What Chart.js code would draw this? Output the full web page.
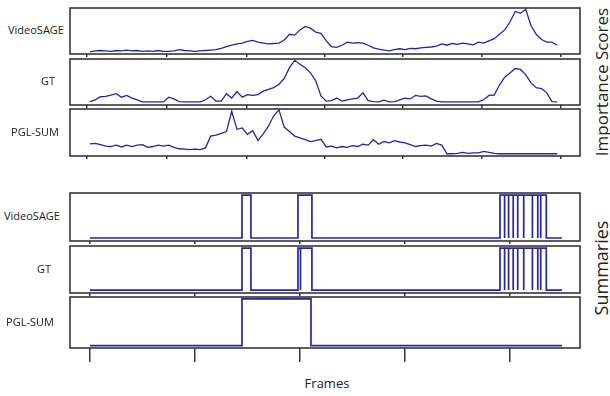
<!DOCTYPE html>
<html>
<head>
<meta charset="utf-8">
<script src="https://cdn.jsdelivr.net/npm/chart.js@4.4.1/dist/chart.umd.min.js"></script>
<style>
  html, body { margin: 0; padding: 0; background: #fff; }
  #figure { position: relative; width: 610px; height: 396px; overflow: hidden; font-family: "Open Sans", sans-serif; color: #222; }
  #figure canvas { position: absolute; }
  .row-label { position: absolute; font-size: 11px; white-space: nowrap; transform: translate(-50%, -50%); }
  .side-label { position: absolute; white-space: nowrap; transform: translate(-50%, -50%) rotate(-90deg); }
  #xlabel { position: absolute; font-size: 13px; transform: translate(-50%, -50%); }
</style>
</head>
<body>
<div id="figure">
  <div class="side-label" style="left:601px; top:82px; font-size:17px;">Importance Scores</div>
  <div class="side-label" style="left:601px; top:268px; font-size:18px;">Summaries</div>
  <div id="xlabel" style="left:327px; top:383px;">Frames</div>
</div>
<script>
// frames sampled for the importance score curves
const scoreFrames = [
  0, 50, 100, 150, 200, 250, 300, 350, 400, 450,
  500, 550, 600, 650, 700, 750, 800, 850, 900, 950,
  1000, 1050, 1100, 1150, 1200, 1250, 1300, 1350, 1400, 1450,
  1500, 1550, 1600, 1650, 1700, 1750, 1800, 1850, 1900, 1950,
  2000, 2050, 2100, 2150, 2200, 2250, 2300, 2350, 2400, 2450,
  2500, 2550, 2600, 2650, 2700, 2750, 2800, 2850, 2900, 2950,
  3000, 3050, 3100, 3150, 3200, 3250, 3300, 3350, 3400, 3450,
  3500, 3550, 3600, 3650, 3700, 3750, 3800, 3850, 3900, 3950,
  4000, 4050, 4100, 4150, 4200, 4250, 4300, 4350, 4400, 4450
];

const videoSageScores = [
  0.00, 0.02, 0.03, 0.02, 0.01, 0.03, 0.02, 0.04, 0.02, 0.03,
  0.01, 0.02, 0.01, 0.03, 0.01, 0.01, 0.02, 0.05, 0.03, 0.02,
  0.01, 0.02, 0.03, 0.04, 0.05, 0.08, 0.12, 0.15, 0.18, 0.20,
  0.24, 0.26, 0.22, 0.20, 0.18, 0.19, 0.20, 0.27, 0.40, 0.38,
  0.50, 0.58, 0.54, 0.45, 0.42, 0.25, 0.12, 0.10, 0.15, 0.22,
  0.20, 0.21, 0.20, 0.15, 0.09, 0.06, 0.04, 0.02, 0.05, 0.07,
  0.05, 0.08, 0.07, 0.09, 0.10, 0.11, 0.13, 0.18, 0.15, 0.19,
  0.17, 0.20, 0.18, 0.16, 0.22, 0.20, 0.25, 0.30, 0.40, 0.50,
  0.68, 0.92, 0.88, 0.97, 0.60, 0.40, 0.28, 0.22, 0.22, 0.15
];

const gtScores = [
  0.02, 0.06, 0.13, 0.14, 0.17, 0.20, 0.12, 0.16, 0.10, 0.06,
  0.01, 0.01, 0.01, 0.01, 0.01, 0.12, 0.08, 0.02, 0.01, 0.01,
  0.01, 0.01, 0.06, 0.14, 0.03, 0.03, 0.20, 0.10, 0.25, 0.12,
  0.18, 0.16, 0.18, 0.26, 0.30, 0.34, 0.42, 0.55, 0.80, 0.97,
  0.88, 0.80, 0.68, 0.50, 0.15, 0.03, 0.04, 0.10, 0.03, 0.06,
  0.08, 0.10, 0.22, 0.04, 0.02, 0.01, 0.05, 0.01, 0.02, 0.06,
  0.10, 0.08, 0.16, 0.14, 0.15, 0.08, 0.03, 0.01, 0.01, 0.01,
  0.01, 0.01, 0.01, 0.01, 0.01, 0.06, 0.16, 0.17, 0.40, 0.58,
  0.68, 0.78, 0.76, 0.64, 0.45, 0.34, 0.32, 0.22, 0.02, 0.01
];

const pglSumScores = [
  0.23, 0.24, 0.21, 0.18, 0.17, 0.20, 0.16, 0.20, 0.17, 0.20,
  0.21, 0.15, 0.17, 0.20, 0.18, 0.20, 0.15, 0.12, 0.11, 0.10,
  0.11, 0.10, 0.14, 0.40, 0.42, 0.46, 0.50, 0.95, 0.55, 0.58,
  0.44, 0.52, 0.30, 0.45, 0.62, 0.85, 0.98, 0.60, 0.50, 0.40,
  0.36, 0.32, 0.28, 0.30, 0.33, 0.16, 0.18, 0.14, 0.17, 0.15,
  0.19, 0.17, 0.22, 0.20, 0.32, 0.22, 0.28, 0.25, 0.30, 0.27,
  0.25, 0.21, 0.17, 0.19, 0.20, 0.18, 0.24, 0.20, 0.01, 0.01,
  0.02, 0.04, 0.02, 0.03, 0.03, 0.06, 0.04, 0.02, 0.01, 0.01,
  0.01, 0.01, 0.01, 0.01, 0.01, 0.01, 0.01, 0.01, 0.01, 0.01
];

// selected shots [start frame, end frame] for each summary
const videoSageShots = [
  [1448, 1533], [1981, 2114],
  [3905, 3949], [3949, 3987], [3987, 4031], [4031, 4074], [4074, 4131],
  [4131, 4214], [4214, 4265], [4265, 4293], [4293, 4346]
];
const gtShots = [
  [1448, 1533], [1981, 2005], [2005, 2114],
  [3905, 3949], [3949, 3987], [3987, 4031], [4031, 4074], [4074, 4131],
  [4131, 4214], [4214, 4265], [4265, 4293], [4293, 4346]
];
const pglSumShots = [[1448, 2105]];
const summaryFirstFrame = 0;
const summaryLastFrame = 4495;

const scoreTicks = [-30, 730, 1490, 2240, 2980, 3730, 4480];
const frameTicks = [0, 1000, 2000, 3000, 4000];
const rowNames = ['VideoSAGE', 'GT', 'PGL-SUM'];

const lineColor = '#2626a3';
const frameColor = '#363636';

// box around every panel
const framePlugin = {
  id: 'frame',
  afterDraw(chart) {
    const { ctx, chartArea: a } = chart;
    ctx.save();
    ctx.strokeStyle = frameColor;
    ctx.lineWidth = 1.6;
    ctx.strokeRect(a.left, a.top, a.right - a.left, a.bottom - a.top);
    ctx.restore();
  }
};

function shotsToSteps(shots) {
  const pts = [{ x: summaryFirstFrame, y: 0 }];
  shots.forEach(([s, e]) => {
    pts.push({ x: s, y: 0 }, { x: s, y: 1 }, { x: e, y: 1 }, { x: e, y: 0 });
  });
  pts.push({ x: summaryLastFrame, y: 0 });
  return pts;
}

const fig = document.getElementById('figure');

function makePanel(p) {
  const pad = 4;
  const canvas = document.createElement('canvas');
  canvas.width = 510 + pad * 2;
  canvas.height = (p.bottom - p.top) + pad * 2 + p.tickLen;
  canvas.style.left = (70 - pad) + 'px';
  canvas.style.top = (p.top - pad) + 'px';
  fig.appendChild(canvas);

  const label = document.createElement('div');
  label.className = 'row-label';
  label.textContent = p.name;
  label.style.left = p.labelX + 'px';
  label.style.top = ((p.top + p.bottom) / 2 - 2) + 'px';
  fig.appendChild(label);

  new Chart(canvas, {
    type: 'line',
    data: {
      datasets: [{
        data: p.data,
        borderColor: lineColor,
        borderWidth: p.lineWidth,
        pointRadius: 0,
        tension: 0,
        fill: false
      }]
    },
    options: {
      responsive: false,
      animation: false,
      events: [],
      layout: { padding: pad },
      plugins: { legend: { display: false }, tooltip: { enabled: false } },
      scales: {
        x: {
          type: 'linear',
          min: -190,
          max: 4667,
          border: { display: false },
          grid: {
            drawOnChartArea: false,
            drawTicks: true,
            tickLength: p.tickLen,
            color: frameColor,
            lineWidth: 1.5
          },
          ticks: { display: false },
          afterBuildTicks: (scale) => {
            scale.ticks = p.ticks.map(v => ({ value: v }));
          }
        },
        y: { display: false, min: p.yMin, max: p.yMax }
      }
    },
    plugins: [framePlugin]
  });
}

const toPoints = (vals) => vals.map((v, i) => ({ x: scoreFrames[i], y: v }));

// importance score panels
makePanel({ name: rowNames[0], labelX: 36, top: 8, bottom: 54, data: toPoints(videoSageScores), yMin: -0.05, yMax: 1, ticks: scoreTicks, tickLen: 3, lineWidth: 1.3 });
makePanel({ name: rowNames[1], labelX: 48, top: 59, bottom: 105, data: toPoints(gtScores), yMin: -0.06, yMax: 1, ticks: scoreTicks, tickLen: 3, lineWidth: 1.3 });
makePanel({ name: rowNames[2], labelX: 35, top: 109, bottom: 156, data: toPoints(pglSumScores), yMin: -0.04, yMax: 1, ticks: scoreTicks, tickLen: 3, lineWidth: 1.3 });

// summary panels
makePanel({ name: rowNames[0], labelX: 32, top: 193, bottom: 241, data: shotsToSteps(videoSageShots), yMin: -0.07, yMax: 1.05, ticks: frameTicks, tickLen: 3, lineWidth: 1.7 });
makePanel({ name: rowNames[1], labelX: 44, top: 246, bottom: 293, data: shotsToSteps(gtShots), yMin: -0.07, yMax: 1.05, ticks: frameTicks, tickLen: 3, lineWidth: 1.7 });
makePanel({ name: rowNames[2], labelX: 30, top: 297, bottom: 348, data: shotsToSteps(pglSumShots), yMin: -0.05, yMax: 1.04, ticks: frameTicks, tickLen: 14, lineWidth: 1.7 });
</script>
</body>
</html>
